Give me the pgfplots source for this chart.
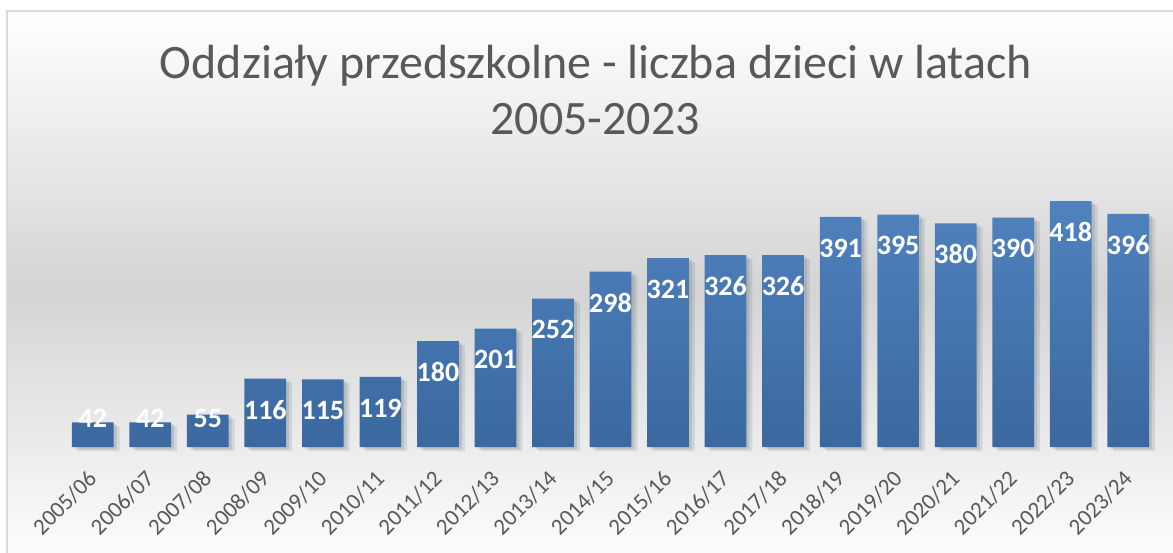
\documentclass[border=0pt]{standalone}
\usepackage{fontspec}
\setmainfont{Carlito}
\usepackage{pgfplots}
\usepackage{pgfplotstable}
\pgfplotsset{compat=1.18}
\definecolor{titlegray}{HTML}{595959}
\definecolor{bartop}{RGB}{80,130,190}
\definecolor{barbot}{RGB}{58,104,160}
\definecolor{bggray}{HTML}{D4D4D4}
\definecolor{framegray}{HTML}{D9D9D9}
\pgfplotstableread{
x y
0 42
1 42
2 55
3 116
4 115
5 119
6 180
7 201
8 252
9 298
10 321
11 326
12 326
13 391
14 395
15 380
16 390
17 418
18 396
}\datatable
\begin{document}
\begin{tikzpicture}[x=1pt,y=1pt]
\useasboundingbox (0,0) rectangle (1173,552);
\fill[white] (0,0) rectangle (1173,552);
\shade[top color=white, bottom color=white, middle color=bggray] (7,-18) rectangle (1190,541);
\draw[framegray, line width=1.5pt] (7,-18) rectangle (1190,541);
\node[anchor=base, text=titlegray, font=\fontsize{48}{57}\selectfont, inner sep=0pt] at (596,473) {Oddziały przedszkolne - liczba dzieci w latach};
\node[anchor=base, text=titlegray, font=\fontsize{48}{57}\selectfont, inner sep=0pt] at (595,417) {2005-2023};
\begin{axis}[
  at={(64pt,105pt)}, anchor=south west,
  scale only axis, width=1093pt, height=264.8pt,
  xmin=-0.5, xmax=18.5, ymin=0, ymax=450,
  ybar, bar width=0.725,
  axis line style={draw=none},
  ytick=\empty,
  xtick=data,
  xticklabels={2005/06,2006/07,2007/08,2008/09,2009/10,2010/11,2011/12,2012/13,2013/14,2014/15,2015/16,2016/17,2017/18,2018/19,2019/20,2020/21,2021/22,2022/23,2023/24},
  major tick length=0pt,
  xticklabel style={font=\fontsize{23}{24}\selectfont, text=titlegray, rotate=45, anchor=east, inner sep=0pt},
  xticklabel shift=28pt,
  clip=false,
  /pgf/number format/assume math mode=true,
  nodes near coords,
  visualization depends on=rawy \as \rawy,
  nodes near coords style={font=\fontsize{28}{28}\selectfont\bfseries, text=white, anchor=center, inner sep=0pt,
    yshift={max(-31,28.5-0.5885*\rawy)}},
]
\addplot[draw=none, top color=bartop, bottom color=barbot,
  preaction={fill=black, opacity=0.06, transform canvas={xshift=6pt, yshift=-4pt}},
  preaction={fill=black, opacity=0.07, transform canvas={xshift=3pt, yshift=-2pt}}]
  table[x=x,y=y] {\datatable};
\end{axis}
\end{tikzpicture}
\end{document}
